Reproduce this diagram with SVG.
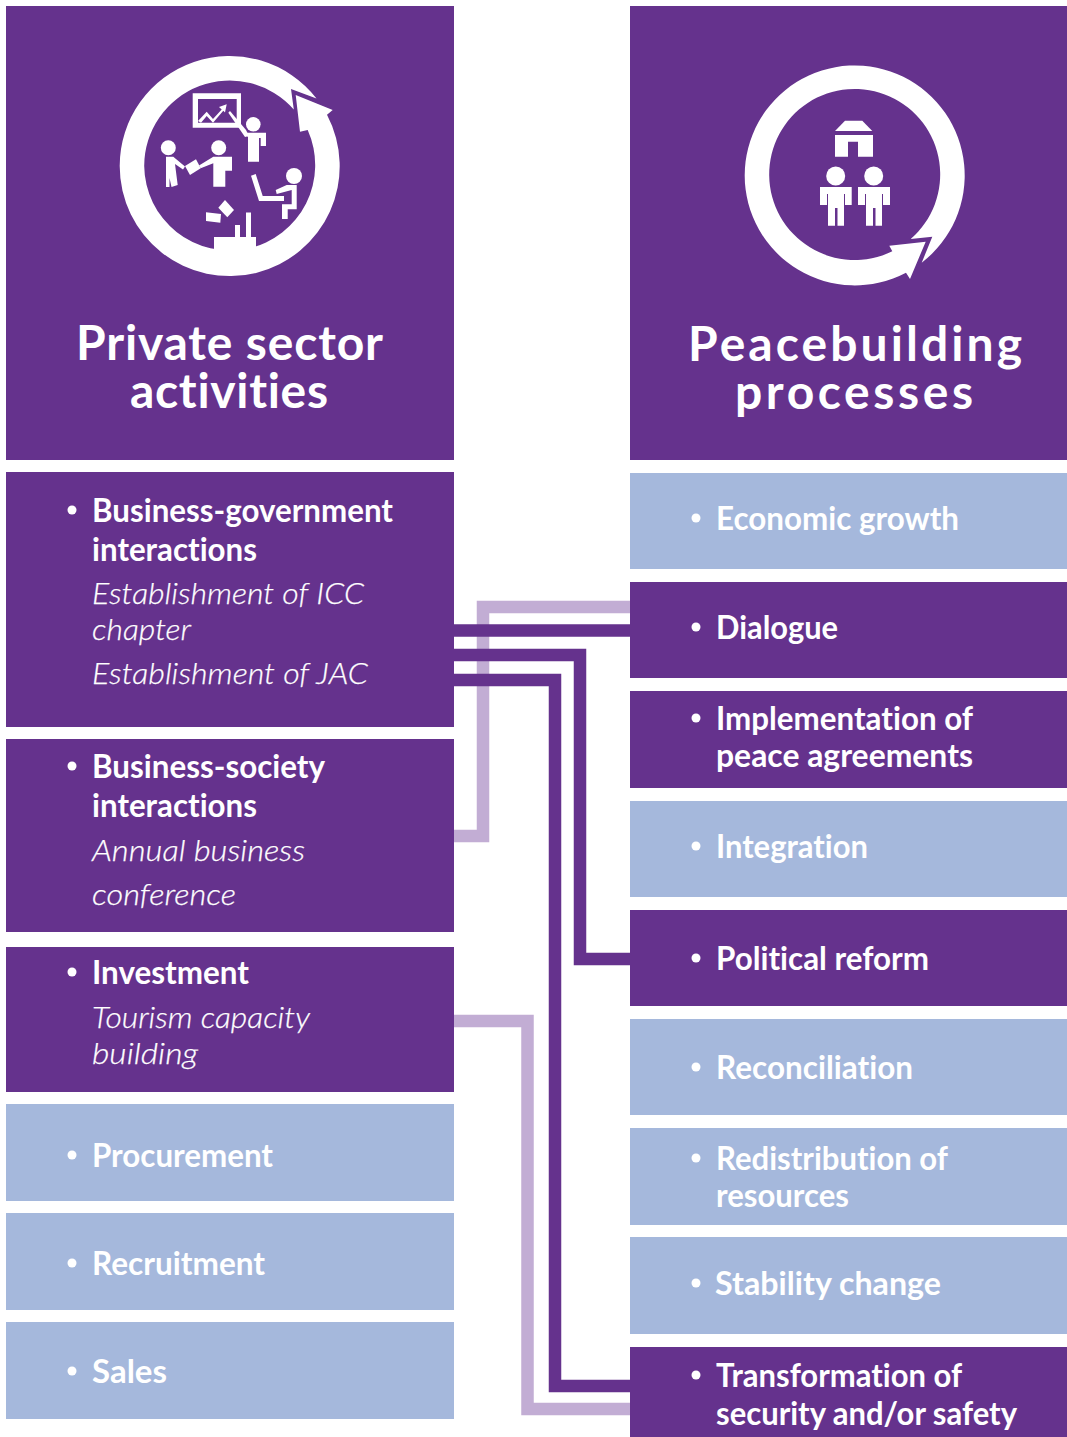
<svg xmlns="http://www.w3.org/2000/svg" width="1067" height="1437" viewBox="0 0 1067 1437">
<style>
text{font-variant-ligatures:none;font-family:"Lato","Liberation Sans",sans-serif;fill:#fff}
.d{fill:#65328d}.b{fill:#a5b8dc}
.t{font-weight:700;font-size:32px}
.h{font-weight:700;font-size:48px}
.i{font-style:italic;font-weight:300;font-size:30px;stroke:#fff;stroke-width:.25px}
.lt{fill:none;stroke:#c2add4;stroke-width:12.5}
.dk{fill:none;stroke:#65328d;stroke-width:12.5}
.w{fill:#fff;stroke:none}
</style>
<rect width="1067" height="1437" fill="#fff"/>
<g id="connectors">
<path class="lt" d="M454 836H483V607H630"/>
<path class="lt" d="M454 1021H527.500V1409H630"/>
<path class="dk" d="M454 630.500H630"/>
<path class="dk" d="M454 655H580V959H630"/>
<path class="dk" d="M454 680H555V1386H630"/>
</g>
<g id="head-private">
<rect class="d" x="6" y="6" width="448" height="454"/>
<path class="w" d="M327 114.800A110 110 0 1 1 119.700 166A110 110 0 0 1 316.500 98.400L291 89L293.800 109.500A85.500 85.500 0 0 0 144.200 166A85.500 85.500 0 1 0 307.700 130L300 131.700L295.700 95L332.700 110Z"/>
<g class="w">
<path d="M192.700 93.300H241V127.700H192.700ZM198 99V122.700H236.700V99Z" fill-rule="evenodd"/>
<path d="M198 121L206.700 111.700L213 119L221.700 109.500L219 107L226.700 104.300L225 112.500L223.300 110.800L213 122.700L206.700 116L201 122.700Z"/>
<path d="M228.300 112.700L230 111L246 130L249 136L245 137Z"/>
<circle cx="253.300" cy="124.300" r="7.300"/>
<path d="M246 132.700H266V146H260.700V138L259 138V161.700H248V137L246 135Z"/>
<circle cx="168.300" cy="147.700" r="7.500"/>
<path d="M166 156.700H173.300L185 166.500L183 169.500L175 164L177.700 185L171.500 187L169.500 178V187H166Z"/>
<path d="M185 166L196 159.300L200.700 168.300L190 175Z"/>
<circle cx="218.700" cy="147.700" r="7.500"/>
<path d="M213.300 156.700H232V170.700H225.300V186.700H213.300V163.300L200.700 168.300L199 165.500Z"/>
<circle cx="294" cy="176" r="8"/>
<path d="M251 175.700L255.700 174L262.700 196H284V201H259Z"/>
<path d="M275.700 190L286.700 185H296.700V209.300H287.700V219H282V204.300H291.700V190L276.700 194Z"/>
<path d="M206 212.300L221 214L220.300 222.700L206 221Z"/>
<path d="M225 200L234 210L227.300 217.300L218.300 207.700Z"/>
<path d="M214 237H235V225H240V237H246V212.500H251V237H256V262H214Z"/>
</g>
</g>
<g id="head-peace">
<rect class="d" x="630" y="6" width="437" height="454"/>
<path class="w" d="M906 272.700A110 110 0 0 1 744.700 175.500A110 110 0 1 1 921.700 262.700L932.300 236.700L910.700 239A85.500 85.500 0 1 0 769.200 175.500A85.500 85.500 0 0 0 892.300 251.300L889.300 245.700L925.700 241.700L910 279Z"/>
<g class="w">
<path d="M835 131L845 120.700H862.300L872.300 131Z"/>
<path d="M835 135H873V156.700H858V141.700H848V156.700H835Z"/>
<circle cx="835.700" cy="176" r="9.500"/>
<path d="M820 187H851.700V205H845V194H844V225.700H837.500V208H835V225.700H828V194H827V205H820Z"/>
<circle cx="873.700" cy="176" r="9.500"/>
<path d="M858 187H890V205H883V194H882V225.700H875.500V208H873V225.700H866V194H865V205H858Z"/>
</g>
</g>
<text class="h" x="76" y="360" textLength="307">Private sector</text>
<text class="h" x="130" y="408" textLength="198">activities</text>
<text class="h" x="688" y="361" textLength="334">Peacebuilding</text>
<text class="h" x="735" y="409" textLength="238">processes</text>
<g id="l1"><rect class="d" x="6" y="472" width="448" height="255"/>
<circle class="w" cx="72" cy="510" r="4.500"/>
<text class="t" x="92" y="522" textLength="301" lengthAdjust="spacingAndGlyphs">Business-government</text><text class="t" x="92" y="561" textLength="165" lengthAdjust="spacingAndGlyphs">interactions</text>
<text class="i" x="92" y="604" textLength="272" lengthAdjust="spacingAndGlyphs">Establishment of ICC</text><text class="i" x="92" y="640" textLength="99" lengthAdjust="spacingAndGlyphs">chapter</text><text class="i" x="92" y="684" textLength="276" lengthAdjust="spacingAndGlyphs">Establishment of JAC</text></g>
<g id="l2"><rect class="d" x="6" y="739" width="448" height="193"/>
<circle class="w" cx="72" cy="766" r="4.500"/>
<text class="t" x="92" y="778" textLength="233" lengthAdjust="spacingAndGlyphs">Business-society</text><text class="t" x="92" y="817" textLength="165" lengthAdjust="spacingAndGlyphs">interactions</text>
<text class="i" x="92" y="861" textLength="213" lengthAdjust="spacingAndGlyphs">Annual business</text><text class="i" x="92" y="905" textLength="144" lengthAdjust="spacingAndGlyphs">conference</text></g>
<g id="l3"><rect class="d" x="6" y="947" width="448" height="145"/>
<circle class="w" cx="72" cy="972" r="4.500"/>
<text class="t" x="92" y="984" textLength="157" lengthAdjust="spacingAndGlyphs">Investment</text>
<text class="i" x="92" y="1028" textLength="218" lengthAdjust="spacingAndGlyphs">Tourism capacity</text><text class="i" x="92" y="1064" textLength="106" lengthAdjust="spacingAndGlyphs">building</text></g>
<g id="l4"><rect class="b" x="6" y="1104" width="448" height="97"/><circle class="w" cx="72" cy="1155" r="4.500"/><text class="t" x="92" y="1167" textLength="181" lengthAdjust="spacingAndGlyphs">Procurement</text></g>
<g id="l5"><rect class="b" x="6" y="1213" width="448" height="97"/><circle class="w" cx="72" cy="1263" r="4.500"/><text class="t" x="92" y="1275" textLength="173" lengthAdjust="spacingAndGlyphs">Recruitment</text></g>
<g id="l6"><rect class="b" x="6" y="1322" width="448" height="97"/><circle class="w" cx="72" cy="1371" r="4.500"/><text class="t" x="92" y="1383" textLength="75" lengthAdjust="spacingAndGlyphs">Sales</text></g>
<g id="r1"><rect class="b" x="630" y="473" width="437" height="96"/><circle class="w" cx="696" cy="518" r="4.500"/><text class="t" x="716" y="530" textLength="243" lengthAdjust="spacingAndGlyphs">Economic growth</text></g>
<g id="r2"><rect class="d" x="630" y="582" width="437" height="96"/><circle class="w" cx="696" cy="627" r="4.500"/><text class="t" x="716" y="639" textLength="122" lengthAdjust="spacingAndGlyphs">Dialogue</text></g>
<g id="r3"><rect class="d" x="630" y="691" width="437" height="97"/><circle class="w" cx="696" cy="718" r="4.500"/><text class="t" x="716" y="730" textLength="257" lengthAdjust="spacingAndGlyphs">Implementation of</text><text class="t" x="716" y="767" textLength="257" lengthAdjust="spacingAndGlyphs">peace agreements</text></g>
<g id="r4"><rect class="b" x="630" y="801" width="437" height="96"/><circle class="w" cx="696" cy="846" r="4.500"/><text class="t" x="716" y="858" textLength="152" lengthAdjust="spacingAndGlyphs">Integration</text></g>
<g id="r5"><rect class="d" x="630" y="910" width="437" height="96"/><circle class="w" cx="696" cy="958" r="4.500"/><text class="t" x="716" y="970" textLength="213" lengthAdjust="spacingAndGlyphs">Political reform</text></g>
<g id="r6"><rect class="b" x="630" y="1019" width="437" height="96"/><circle class="w" cx="696" cy="1067" r="4.500"/><text class="t" x="716" y="1079" textLength="197" lengthAdjust="spacingAndGlyphs">Reconciliation</text></g>
<g id="r7"><rect class="b" x="630" y="1128" width="437" height="97"/><circle class="w" cx="696" cy="1158" r="4.500"/><text class="t" x="716" y="1170" textLength="232" lengthAdjust="spacingAndGlyphs">Redistribution of</text><text class="t" x="716" y="1207" textLength="133" lengthAdjust="spacingAndGlyphs">resources</text></g>
<g id="r8"><rect class="b" x="630" y="1237" width="437" height="97"/><circle class="w" cx="696" cy="1283" r="4.500"/><text class="t" x="715" y="1295" textLength="226" lengthAdjust="spacingAndGlyphs">Stability change</text></g>
<g id="r9"><rect class="d" x="630" y="1347" width="437" height="90"/><circle class="w" cx="696" cy="1375" r="4.500"/><text class="t" x="716" y="1387" textLength="246" lengthAdjust="spacingAndGlyphs">Transformation of</text><text class="t" x="716" y="1425" textLength="301" lengthAdjust="spacingAndGlyphs">security and/or safety</text></g>
</svg>
